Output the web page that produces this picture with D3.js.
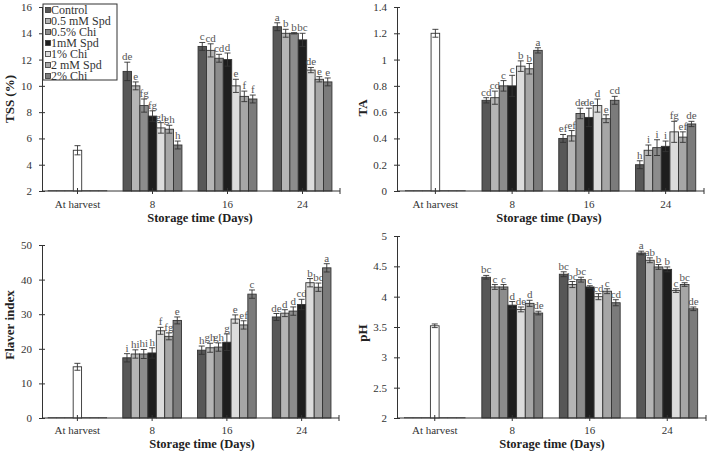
<!DOCTYPE html>
<html><head><meta charset="utf-8">
<script src="https://cdn.jsdelivr.net/npm/d3@7"></script>
<style>
html,body{margin:0;padding:0;background:#fff;}
svg{display:block;font-family:"Liberation Serif","Times New Roman",serif;}
</style></head>
<body>
<svg id="chart" width="709" height="456"></svg>
<script>
// ---------- data ----------
const categories = ["At harvest", "8", "16", "24"];
const days = ["8", "16", "24"];
const treatments = ["Control", "0.5 mM Spd", "0.5% Chi", "1mM Spd", "1% Chi", "2 mM Spd", "2% Chi"];

const tssHarvest = 5.1, tssHarvestErr = 0.35;
const tssValues = [[11.1, 10.0, 8.5, 7.7, 6.8, 6.7, 5.5], [13.0, 12.7, 12.1, 12.0, 10.0, 9.2, 9.0], [14.5, 14.0, 14.0, 13.5, 11.2, 10.5, 10.3]];
const tssErrors = [[0.7, 0.3, 0.5, 0.4, 0.4, 0.3, 0.3], [0.3, 0.5, 0.3, 0.5, 0.5, 0.4, 0.3], [0.3, 0.3, 0.05, 0.5, 0.2, 0.2, 0.3]];
const tssLetters = [["de", "e", "fg", "fg", "gh", "gh", "h"], ["c", "cd", "cd", "d", "e", "f", "f"], ["a", "b", "b", "bc", "de", "e", "e"]];
const tssTicks = ["2", "4", "6", "8", "10", "12", "14", "16"];

const taHarvest = 1.2, taHarvestErr = 0.03;
const taValues = [[0.69, 0.71, 0.80, 0.80, 0.95, 0.93, 1.07], [0.40, 0.42, 0.59, 0.56, 0.65, 0.55, 0.69], [0.20, 0.31, 0.33, 0.34, 0.45, 0.41, 0.51]];
const taErrors = [[0.02, 0.05, 0.04, 0.08, 0.04, 0.04, 0.02], [0.03, 0.04, 0.04, 0.07, 0.05, 0.03, 0.03], [0.03, 0.04, 0.06, 0.04, 0.08, 0.04, 0.02]];
const taLetters = [["cd", "cd", "c", "c", "b", "b", "a"], ["ef", "ef", "de", "de", "d", "e", "cd"], ["h", "i", "i", "i", "fg", "ef", "de"]];
const taTicks = ["0", "0.2", "0.4", "0.6", "0.8", "1", "1.2", "1.4"];

const flHarvest = 14.8, flHarvestErr = 1.0;
const flValues = [[17.4, 18.5, 18.5, 18.8, 25.2, 23.6, 28.2], [19.6, 20.3, 20.5, 21.9, 28.6, 26.9, 35.8], [29.2, 30.3, 30.9, 32.8, 39.1, 37.8, 43.4]];
const flErrors = [[1.2, 1.2, 1.3, 1.5, 1.0, 1.0, 1.0], [1.2, 1.3, 1.2, 2.4, 1.2, 1.2, 1.2], [1.0, 1.0, 1.2, 1.5, 1.2, 1.2, 1.2]];
const flLetters = [["i", "hi", "hi", "h", "f", "fg", "e"], ["h", "gh", "gh", "g", "e", "ef", "c"], ["de", "d", "d", "cd", "b", "bc", "a"]];
const flTicks = ["0", "10", "20", "30", "40", "50"];

const phHarvest = 3.52, phHarvestErr = 0.03;
const phValues = [[4.32, 4.16, 4.16, 3.86, 3.79, 3.89, 3.73], [4.37, 4.20, 4.28, 4.16, 4.00, 4.09, 3.90], [4.72, 4.60, 4.49, 4.45, 4.10, 4.20, 3.80]];
const phErrors = [[0.03, 0.04, 0.04, 0.06, 0.04, 0.05, 0.03], [0.04, 0.05, 0.04, 0.02, 0.05, 0.04, 0.05], [0.03, 0.04, 0.04, 0.04, 0.03, 0.03, 0.03]];
const phLetters = [["bc", "c", "c", "d", "de", "d", "de"], ["bc", "bc", "bc", "c", "cd", "c", "cd"], ["a", "ab", "b", "b", "c", "bc", "de"]];
const phTicks = ["2", "2.5", "3", "3.5", "4", "4.5", "5"];

// ---------- styles ----------
const fills = ["#575757", "#b5b5b5", "#8c8c8c", "#1e1e1e", "#dcdcdc", "#a6a6a6", "#7b7b7b"];
const strokeCol = "#333";

const panels = [
  {title: "TSS (%)", harvest: tssHarvest, harvestErr: tssHarvestErr, values: tssValues, errors: tssErrors, letters: tssLetters, ticks: tssTicks,
   xr: [40, 340], yr: [191, 7], ax: 42, titleX: 9, titleY: 99, xlabY: 208, xtitleY: 222, xtitleX: 200, legend: true},
  {title: "TA", harvest: taHarvest, harvestErr: taHarvestErr, values: taValues, errors: taErrors, letters: taLetters, ticks: taTicks,
   xr: [397, 704], yr: [191, 7], ax: 397, titleX: 362, titleY: 108, xlabY: 208, xtitleY: 222, xtitleX: 549},
  {title: "Flaver index", harvest: flHarvest, harvestErr: flHarvestErr, values: flValues, errors: flErrors, letters: flLetters, ticks: flTicks,
   xr: [40, 339], yr: [418, 245], ax: 42, titleX: 9, titleY: 325, xlabY: 434, xtitleY: 448, xtitleX: 202},
  {title: "pH", harvest: phHarvest, harvestErr: phHarvestErr, values: phValues, errors: phErrors, letters: phLetters, ticks: phTicks,
   xr: [396, 706], yr: [418, 236], ax: 397, titleX: 362, titleY: 333, xlabY: 434, xtitleY: 448, xtitleX: 552}
];

const svg = d3.select("#chart");

panels.forEach(p => {
  const tickVals = p.ticks.map(Number);
  const g = svg.append("g");
  const x0 = d3.scaleBand().domain(categories).range(p.xr).paddingInner(0).paddingOuter(0);
  const gw = x0.bandwidth() * 0.785;
  const x1 = d3.scaleBand().domain(treatments).range([-gw / 2, gw / 2]);
  const y = d3.scaleLinear().domain([d3.min(tickVals), d3.max(tickVals)]).range(p.yr);
  const bw = x1.bandwidth();
  const y0 = y.range()[0];

  // bars for storage days
  days.forEach((d, i) => {
    const cx = x0(d) + x0.bandwidth() / 2;
    const grp = g.append("g");
    treatments.forEach((t, j) => {
      const v = p.values[i][j], e = p.errors[i][j];
      const bx = cx + x1(t);
      grp.append("rect").attr("x", bx).attr("y", y(v)).attr("width", bw).attr("height", y0 - y(v))
        .attr("fill", fills[j]).attr("stroke", strokeCol).attr("stroke-width", 0.9);
      const mx = bx + bw / 2;
      grp.append("line").attr("x1", mx).attr("x2", mx).attr("y1", y(v - e)).attr("y2", y(v + e)).attr("stroke", strokeCol).attr("stroke-width", 0.9);
      [v - e, v + e].forEach(yy => grp.append("line").attr("x1", mx - 3).attr("x2", mx + 3).attr("y1", y(yy)).attr("y2", y(yy)).attr("stroke", strokeCol).attr("stroke-width", 0.9));
      grp.append("text").attr("x", mx).attr("y", y(v + e) - 2).attr("text-anchor", "middle")
        .attr("font-size", 11).attr("fill", "#555").text(p.letters[i][j]);
    });
  });

  // at harvest
  {
    const cx = x0(categories[0]) + x0.bandwidth() / 2;
    treatments.forEach((t, j) => {
      if (j === 3) return;
      g.append("rect").attr("x", cx + x1(t)).attr("y", y0 - 0.5).attr("width", bw).attr("height", 0.5)
        .attr("fill", "none").attr("stroke", "#666").attr("stroke-width", 0.6);
    });
    const v = p.harvest, e = p.harvestErr;
    const bx = cx - bw / 2;
    g.append("rect").attr("x", bx).attr("y", y(v)).attr("width", bw).attr("height", y0 - y(v))
      .attr("fill", "#fff").attr("stroke", strokeCol).attr("stroke-width", 0.9);
    g.append("line").attr("x1", cx).attr("x2", cx).attr("y1", y(v - e)).attr("y2", y(v + e)).attr("stroke", strokeCol).attr("stroke-width", 0.9);
    [v - e, v + e].forEach(yy => g.append("line").attr("x1", cx - 3).attr("x2", cx + 3).attr("y1", y(yy)).attr("y2", y(yy)).attr("stroke", strokeCol).attr("stroke-width", 0.9));
  }

  // y axis
  const yAxis = d3.axisLeft(y).tickValues(tickVals).tickFormat((d, i) => p.ticks[i]).tickSizeInner(3).tickSizeOuter(0).tickPadding(7);
  const ya = g.append("g").attr("transform", `translate(${p.ax},0)`).call(yAxis);
  ya.select(".domain").attr("stroke", strokeCol);
  ya.selectAll(".tick line").attr("x2", -3).attr("x1", 3).attr("stroke", strokeCol);
  ya.selectAll(".tick text").attr("font-size", 11).attr("fill", "#333").attr("font-family", "Liberation Serif");

  // x axis
  const xa = g.append("g").attr("transform", `translate(0,${y0})`);
  xa.append("line").attr("x1", p.ax).attr("x2", p.xr[1]).attr("y1", 0).attr("y2", 0).attr("stroke", strokeCol);
  categories.forEach(c => {
    const cx = x0(c) + x0.bandwidth() / 2;
    xa.append("line").attr("x1", cx).attr("x2", cx).attr("y1", -3).attr("y2", 3).attr("stroke", strokeCol);
    xa.append("text").attr("x", cx).attr("y", p.xlabY - y0).attr("text-anchor", "middle").attr("font-size", 11).attr("fill", "#333").text(c);
  });
  xa.append("line").attr("x1", p.xr[1]).attr("x2", p.xr[1]).attr("y1", -3).attr("y2", 3).attr("stroke", strokeCol);

  g.append("text").attr("x", p.xtitleX).attr("y", p.xtitleY).attr("text-anchor", "middle")
    .attr("font-size", 12.5).attr("font-weight", "bold").attr("fill", "#222").text("Storage time (Days)");
  g.append("text").attr("transform", `translate(${p.titleX},${p.titleY}) rotate(-90)`).attr("text-anchor", "middle")
    .attr("dominant-baseline", "central").attr("font-size", 13).attr("font-weight", "bold").attr("fill", "#222").text(p.title);

  if (p.legend) {
    const lg = g.append("g");
    lg.append("rect").attr("x", 43).attr("y", 4).attr("width", 74).attr("height", 76).attr("fill", "#fff").attr("stroke", strokeCol).attr("stroke-width", 1);
    treatments.forEach((t, j) => {
      const yy = 10 + j * 11;
      lg.append("rect").attr("x", 45.5).attr("y", yy - 2.5).attr("width", 5).attr("height", 5).attr("fill", fills[j]).attr("stroke", strokeCol).attr("stroke-width", 0.8);
      lg.append("text").attr("x", 51).attr("y", yy + 4).attr("font-size", 12).attr("fill", "#333").text(t);
    });
  }
});
</script>
</body></html>
